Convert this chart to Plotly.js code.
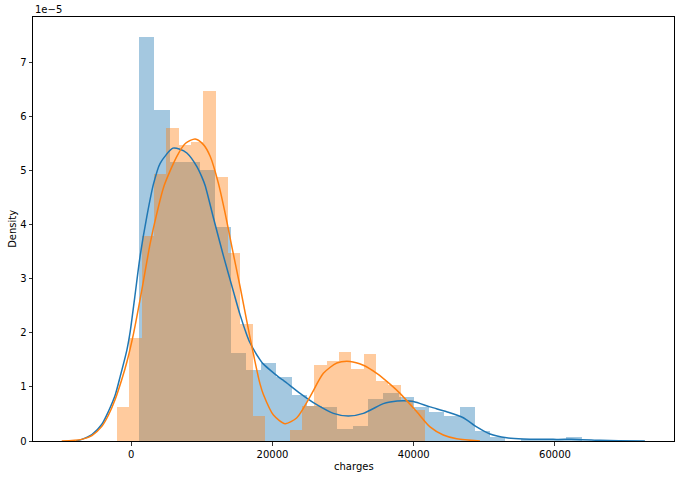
<!DOCTYPE html>
<html><head><meta charset="utf-8">
<script src="https://cdn.plot.ly/plotly-3.0.1.min.js"></script>
<style>html,body{margin:0;padding:0;background:#fff}#chart{width:680px;height:478px}</style>
</head><body><div id="chart"></div>
<script>
// values in units of 1e-5 (density)
const yScaleLabel = '1e\u22125';
const xAxisTitle = 'charges';
const yAxisTitle = 'Density';

const blueBinStart = 1121.87;
const blueBinWidth = 2160.3;
const blueDensity = [7.46, 6.12, 5.15, 5.15, 5.01, 3.95, 1.62, 1.31, 1.45, 1.19,
                     0.85, 0.65, 0.63, 0.22, 0.28, 0.77, 0.88, 0.81, 0.62, 0.54,
                     0.47, 0.62, 0.19, 0.07, 0.0, 0.035, 0.035, 0.035, 0.07];

const orangeBinStart = -2030;
const orangeBinWidth = 1747;
const orangeDensity = [0.62, 1.90, 3.78, 4.93, 5.79, 5.47, 5.52, 6.47, 4.87, 3.47,
                       2.17, 0.46, 0.0, 0.0, 0.21, 0.64, 1.40, 1.47, 1.65, 1.33,
                       1.61, 1.10, 1.03, 0.76, 0.58];

const blueKdeX = [-7840, -7000, -5560, -4150, -3210, -2260, -1560, -610, -140, 500,
                  1270, 2220, 3160, 4100, 5900, 6900, 7880, 9300, 10000, 10470,
                  11650, 13060, 14480, 15420, 16370, 16840, 18250, 18720, 21080, 21550,
                  23910, 26270, 28630, 30750, 32870, 35700, 36650, 38530, 39950, 42310,
                  44670, 47020, 48910, 50800, 53160, 55510, 60240, 63070, 66370, 69000,
                  72730];
const blueKdeY = [0.0, 0.03, 0.12, 0.31, 0.55, 0.85, 1.19, 1.68, 2.02, 2.65,
                  3.42, 4.15, 4.75, 5.13, 5.41, 5.39, 5.32, 5.07, 4.88, 4.72,
                  4.12, 3.42, 2.76, 2.33, 1.96, 1.81, 1.50, 1.42, 1.16, 1.12,
                  0.88, 0.67, 0.51, 0.46, 0.51, 0.69, 0.72, 0.745, 0.73, 0.63,
                  0.54, 0.43, 0.26, 0.13, 0.06, 0.037, 0.03, 0.03, 0.013, 0.004,
                  0.0];

const orangeKdeX = [-9830, -7000, -5560, -4150, -3210, -2260, -1320, -610, 325, 1270,
                    1740, 2690, 3640, 4670, 6470, 7700, 9060, 10200, 11180, 12350,
                    13300, 14250, 15420, 16840, 18250, 18720, 20140, 21790, 23450, 25330,
                    27210, 29110, 30990, 32870, 34770, 36650, 38060, 40430, 42310, 44190,
                    46090, 49380];
const orangeKdeY = [0.0, 0.03, 0.10, 0.27, 0.48, 0.77, 1.14, 1.46, 1.98, 2.62,
                    2.96, 3.65, 4.21, 4.72, 5.26, 5.50, 5.58, 5.48, 5.26, 4.76,
                    4.21, 3.59, 2.85, 1.90, 1.05, 0.86, 0.48, 0.32, 0.43, 0.82,
                    1.25, 1.44, 1.47, 1.40, 1.25, 1.05, 0.88, 0.54, 0.26, 0.11,
                    0.04, 0.0];

const xTicks = [0, 20000, 40000, 60000];
const yTicks = [0, 1, 2, 3, 4, 5, 6, 7];

function centers(start, width, n) {
  const c = [];
  for (let i = 0; i < n; i++) c.push(start + width * (i + 0.5));
  return c;
}

const blueColor = '#1f77b4';
const orangeColor = '#ff7f0e';

const traces = [
  {type: 'bar', x: centers(blueBinStart, blueBinWidth, blueDensity.length), y: blueDensity,
   width: blueBinWidth, marker: {color: blueColor, line: {width: 0}}, opacity: 0.4, hoverinfo: 'skip'},
  {type: 'bar', x: centers(orangeBinStart, orangeBinWidth, orangeDensity.length), y: orangeDensity,
   width: orangeBinWidth, marker: {color: orangeColor, line: {width: 0}}, opacity: 0.4, hoverinfo: 'skip'},
  {type: 'scatter', mode: 'lines', x: blueKdeX, y: blueKdeY,
   line: {color: blueColor, width: 1.5, shape: 'spline', smoothing: 0.7}},
  {type: 'scatter', mode: 'lines', x: orangeKdeX, y: orangeKdeY,
   line: {color: orangeColor, width: 1.5, shape: 'spline', smoothing: 0.7}}
];

const font = {family: 'DejaVu Sans, sans-serif', size: 10, color: '#000'};
const axisCommon = {
  ticks: 'outside', ticklen: 3.5, tickwidth: 0.8, tickcolor: '#000',
  showline: true, linecolor: '#000', linewidth: 1, mirror: true,
  showgrid: false, zeroline: false, tickfont: font, fixedrange: true
};

const layout = {
  width: 680, height: 478,
  margin: {l: 33, r: 6, t: 17, b: 37, pad: 0},
  paper_bgcolor: '#fff', plot_bgcolor: '#fff',
  showlegend: false, barmode: 'overlay', bargap: 0,
  font: font,
  xaxis: Object.assign({}, axisCommon, {range: [-13900, 76850], tickvals: xTicks,
          ticktext: xTicks.map(String)}),
  yaxis: Object.assign({}, axisCommon, {range: [0, 7.833], tickvals: yTicks,
          ticktext: yTicks.map(String)}),
  annotations: [
    {text: yScaleLabel, xref: 'paper', yref: 'paper', x: 0, y: 1, xanchor: 'left', yanchor: 'bottom',
     showarrow: false, font: font, yshift: 0},
    {text: xAxisTitle, xref: 'paper', yref: 'paper', x: 0.5, y: -0.059, xanchor: 'center', yanchor: 'middle',
     showarrow: false, font: font},
    {text: yAxisTitle, xref: 'paper', yref: 'paper', x: -0.033, y: 0.5, xanchor: 'center', yanchor: 'middle',
     textangle: -90, showarrow: false, font: font}
  ]
};

Plotly.newPlot('chart', traces, layout, {displayModeBar: false, staticPlot: true});
</script>
</body></html>
